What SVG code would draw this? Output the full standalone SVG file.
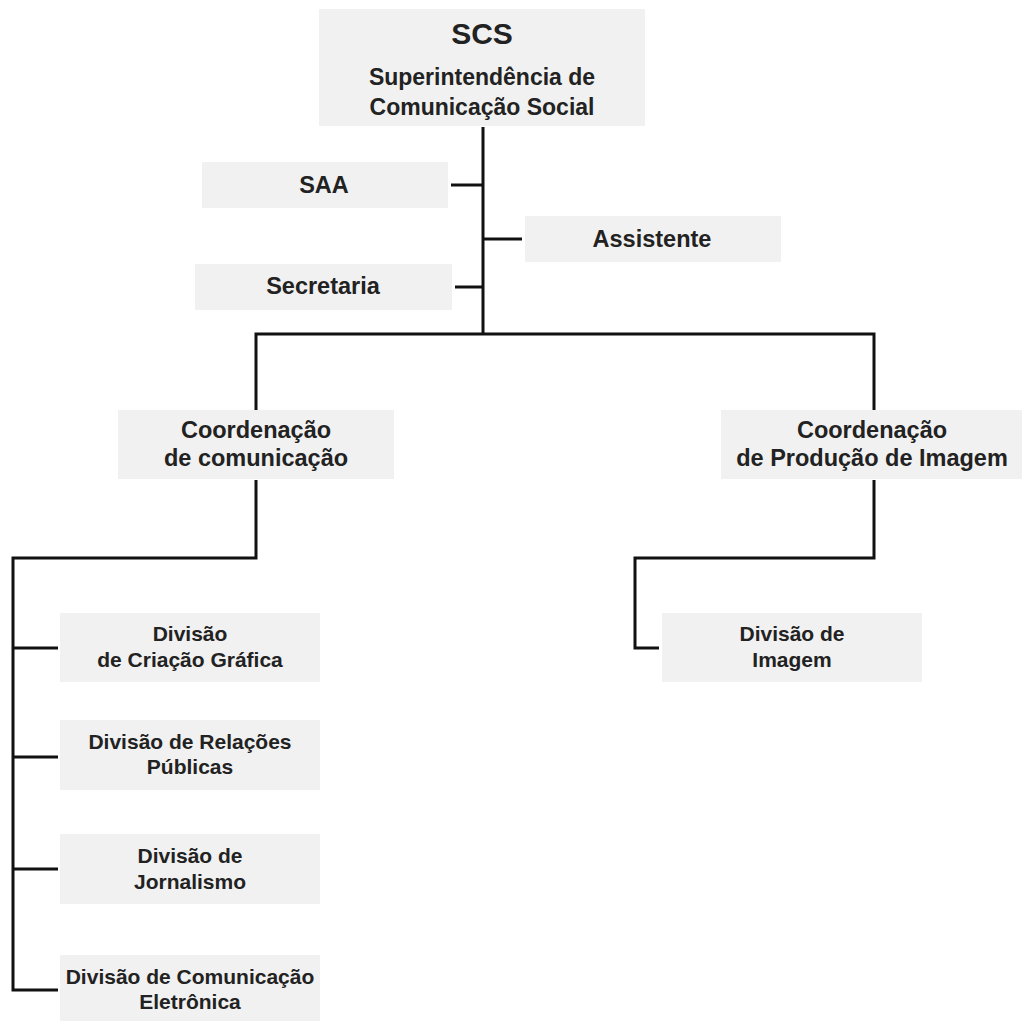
<svg xmlns="http://www.w3.org/2000/svg" width="1022" height="1021" viewBox="0 0 1022 1021">
<style>
.box{fill:#f1f1f1}
.t{font-family:"Liberation Sans",Arial,sans-serif;font-weight:bold;fill:#222;text-anchor:middle;font-size:23.5px}
.s{font-size:21px}
.conn{fill:none;stroke:#111;stroke-width:3;stroke-linejoin:miter}
</style>
<rect width="1022" height="1021" fill="#fff"/>
<g id="connectors" class="conn">
<path d="M483 127V334"/>
<path d="M451 185H483"/>
<path d="M483 239H522"/>
<path d="M455 287H483"/>
<path d="M256 410V334H874V410"/>
<path d="M256 480V558H13V990H58"/>
<path d="M13 648H58"/>
<path d="M13 757H58"/>
<path d="M13 869H58"/>
<path d="M874 480V558H635V648H659"/>
</g>
<g id="scs"><rect class="box" x="319" y="9" width="326" height="117"/>
<text class="t" x="482" y="44" style="font-size:30px">SCS</text>
<text class="t" x="482" y="85" style="font-size:23px">Superintendência de</text>
<text class="t" x="482" y="115" style="font-size:23px">Comunicação Social</text></g>
<g id="saa"><rect class="box" x="202" y="162" width="246" height="46"/>
<text class="t" x="324" y="193">SAA</text></g>
<g id="assistente"><rect class="box" x="525" y="216" width="256" height="46"/>
<text class="t" x="652" y="247">Assistente</text></g>
<g id="secretaria"><rect class="box" x="195" y="264" width="257" height="46"/>
<text class="t" x="323" y="294">Secretaria</text></g>
<g id="coord-com"><rect class="box" x="118" y="410" width="276" height="69"/>
<text class="t" x="256" y="438">Coordenação</text>
<text class="t" x="256" y="466">de comunicação</text></g>
<g id="coord-prod"><rect class="box" x="721" y="410" width="301" height="69"/>
<text class="t" x="872" y="438">Coordenação</text>
<text class="t" x="872" y="466">de Produção de Imagem</text></g>
<g id="div-criacao"><rect class="box" x="60" y="613" width="260" height="69"/>
<text class="t s" x="190" y="641">Divisão</text>
<text class="t s" x="190" y="667">de Criação Gráfica</text></g>
<g id="div-relacoes"><rect class="box" x="60" y="720" width="260" height="70"/>
<text class="t s" x="190" y="749">Divisão de Relações</text>
<text class="t s" x="190" y="774">Públicas</text></g>
<g id="div-jornalismo"><rect class="box" x="60" y="834" width="260" height="70"/>
<text class="t s" x="190" y="863">Divisão de</text>
<text class="t s" x="190" y="889">Jornalismo</text></g>
<g id="div-eletronica"><rect class="box" x="60" y="955" width="260" height="66"/>
<text class="t s" x="190" y="984">Divisão de Comunicação</text>
<text class="t s" x="190" y="1009">Eletrônica</text></g>
<g id="div-imagem"><rect class="box" x="662" y="613" width="260" height="69"/>
<text class="t s" x="792" y="641">Divisão de</text>
<text class="t s" x="792" y="667">Imagem</text></g>
</svg>
